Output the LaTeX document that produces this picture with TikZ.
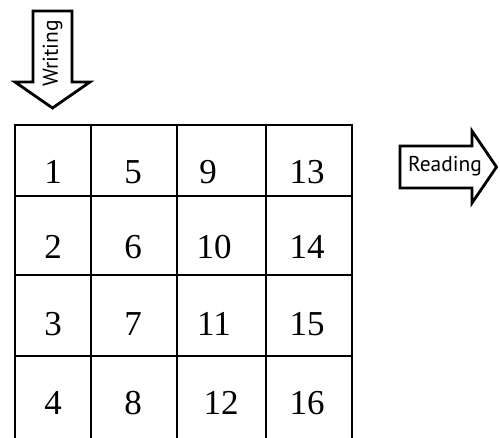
\documentclass[tikz,border=0pt]{standalone}
\usepackage{fontspec}
\setmainfont{Liberation Serif}
\newfontfamily\labelfont{PT Sans}
\begin{document}
\begin{tikzpicture}[x=1pt,y=-1pt,line join=miter,
  gridline/.style={line width=2.8pt},
  num/.style={font=\fontsize{35}{35}\selectfont,anchor=base,inner sep=0pt},
  arrowbox/.style={draw,line width=2.8pt,fill=white},
  lbl/.style={font=\labelfont\fontsize{21.5}{21.5}\selectfont,inner sep=0pt}]
\clip (0,0) rectangle (500,438);
\fill[white] (0,0) rectangle (500,438);
% grid
\foreach \x in {15,91,177,266,352}
  \draw[gridline] (\x,123.6) -- (\x,445);
\foreach \y in {125,196,275,356}
  \draw[gridline] (13.6,\y) -- (353.4,\y);
% numbers (column-major)
\node[num] (n1)  at (53,183.5) {1};
\node[num] (n2)  at (53,258.5) {2};
\node[num] (n3)  at (53,335.5) {3};
\node[num] (n4)  at (53,414.5) {4};
\node[num] (n5)  at (133,183.5) {5};
\node[num] (n6)  at (133,258.5) {6};
\node[num] (n7)  at (133,335.5) {7};
\node[num] (n8)  at (133,414.5) {8};
\node[num] (n9)  at (208,183.5) {9};
\node[num] (n10) at (214,258.5) {10};
\node[num] (n11) at (214,335.5) {11};
\node[num] (n12) at (221,414.5) {12};
\node[num] (n13) at (307,183.5) {13};
\node[num] (n14) at (307,258.5) {14};
\node[num] (n15) at (307,335.5) {15};
\node[num] (n16) at (307,414.5) {16};
% Writing arrow
\draw[arrowbox] (33,11) -- (72,11) -- (72,82) -- (90,82) -- (52.5,108) -- (15,82) -- (33,82) -- cycle;
\node[lbl,rotate=90] (writing) at (52.5,53.5) {Writing};
% Reading arrow
\draw[arrowbox] (400,146) -- (472,146) -- (472,131) -- (496.5,167) -- (472,203) -- (472,188) -- (400,188) -- cycle;
\node[lbl] (reading) at (445,166) {Reading};
\end{tikzpicture}
\end{document}
